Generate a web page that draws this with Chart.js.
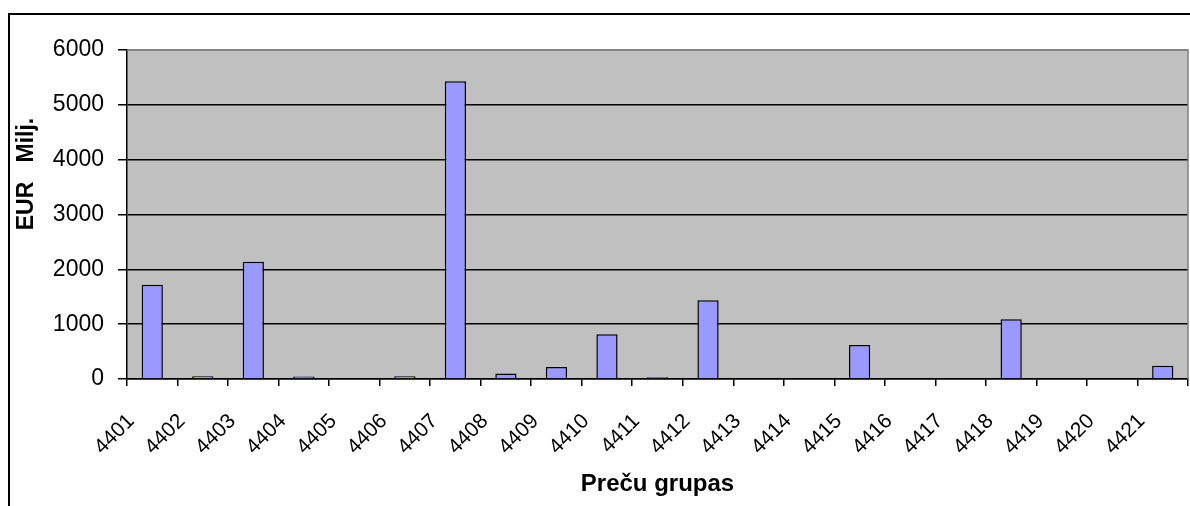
<!DOCTYPE html>
<html>
<head>
<meta charset="utf-8">
<script src="https://cdn.jsdelivr.net/npm/chart.js@4.4.1/dist/chart.umd.min.js"></script>
<style>
  html, body { margin: 0; padding: 0; background: #fff; overflow: hidden; }
  #wrap { position: relative; width: 1190px; height: 506px; }
  #frame { position: absolute; left: 8px; top: 13px; width: 1300px; height: 700px; border: 2px solid #000; box-sizing: border-box; }
  canvas { position: absolute; left: 0; top: 0; }
</style>
</head>
<body>
<div id="wrap">
  <div id="frame"></div>
  <canvas id="chart" width="1190" height="506"></canvas>
</div>
<script>
// ===== Data
const categories = ['4401', '4402', '4403', '4404', '4405', '4406', '4407', '4408', '4409', '4410', '4411',
  '4412', '4413', '4414', '4415', '4416', '4417', '4418', '4419', '4420', '4421'];
const values = [1720, 50, 2140, 45, 0, 50, 5430, 100, 220, 815, 30,
  1435, 0, 0, 620, 0, 0, 1090, 0, 0, 240];
const yTicks = [0, 1000, 2000, 3000, 4000, 5000, 6000];
const xTitle = 'Preču grupas';
const yTitle = 'EUR   Milj.';

const FONT = "Arial, 'Liberation Sans', sans-serif";

// grey plot area + grey top/right edge, y title drawn by hand (Excel puts it off-centre)
const plotArea = {
  id: 'plotArea',
  beforeDraw(chart) {
    const { ctx, chartArea: a } = chart;
    ctx.save();
    ctx.fillStyle = '#C0C0C0';
    ctx.fillRect(a.left, a.top, a.right - a.left, a.bottom - a.top);
    ctx.restore();
  },
  afterDatasetsDraw(chart) {
    const { ctx, chartArea: a } = chart;
    ctx.save();
    ctx.strokeStyle = '#808080';
    ctx.lineWidth = 1.5;
    ctx.beginPath();
    ctx.moveTo(a.left, a.top);
    ctx.lineTo(a.right, a.top);
    ctx.lineTo(a.right, a.bottom);
    ctx.stroke();
    ctx.restore();
  },
  afterDraw(chart) {
    const { ctx } = chart;
    ctx.save();
    ctx.translate(33, 174);
    ctx.rotate(-Math.PI / 2);
    ctx.font = 'bold 23px ' + FONT;
    ctx.fillStyle = '#000';
    ctx.textAlign = 'center';
    ctx.textBaseline = 'alphabetic';
    ctx.fillText(yTitle, 0, 0);
    ctx.restore();
  }
};

new Chart(document.getElementById('chart'), {
  type: 'bar',
  data: {
    labels: categories,
    datasets: [{
      data: values,
      backgroundColor: '#9999FF',
      borderColor: '#000',
      borderWidth: 1.5,
      categoryPercentage: 0.42,
      barPercentage: 1
    }]
  },
  plugins: [plotArea],
  options: {
    responsive: false,
    animation: false,
    layout: { padding: { top: 50, right: 2, left: 0, bottom: 0 } },
    plugins: { legend: { display: false }, tooltip: { enabled: false } },
    scales: {
      x: {
        afterFit: s => { s.height = 127; s.paddingLeft = 0; s.paddingRight = 0; },
        grid: { offset: true, drawOnChartArea: false, drawTicks: true, tickLength: 7, color: '#000', lineWidth: 1.5 },
        border: { color: '#000', width: 1.5 },
        ticks: {
          autoSkip: false, minRotation: 45, maxRotation: 45,
          color: '#000', font: { family: FONT, size: 21 },
          padding: 23, labelOffset: -21
        },
        title: { display: true, text: xTitle, color: '#000', font: { family: FONT, size: 24, weight: 'bold' }, padding: { top: 0, bottom: 7 } }
      },
      y: {
        min: 0, max: 6000,
        afterFit: s => { s.width = 127; },
        afterBuildTicks: s => { s.ticks = yTicks.map(v => ({ value: v })); },
        grid: {
          color: c => (c.tick && c.tick.value === 6000 ? '#808080' : '#000'),
          tickColor: '#000', lineWidth: 1.5, tickLength: 9
        },
        border: { color: '#000', width: 1.5 },
        ticks: { color: '#000', font: { family: FONT, size: 23 }, padding: 14, callback: v => String(v) }
      }
    }
  }
});
</script>
</body>
</html>
